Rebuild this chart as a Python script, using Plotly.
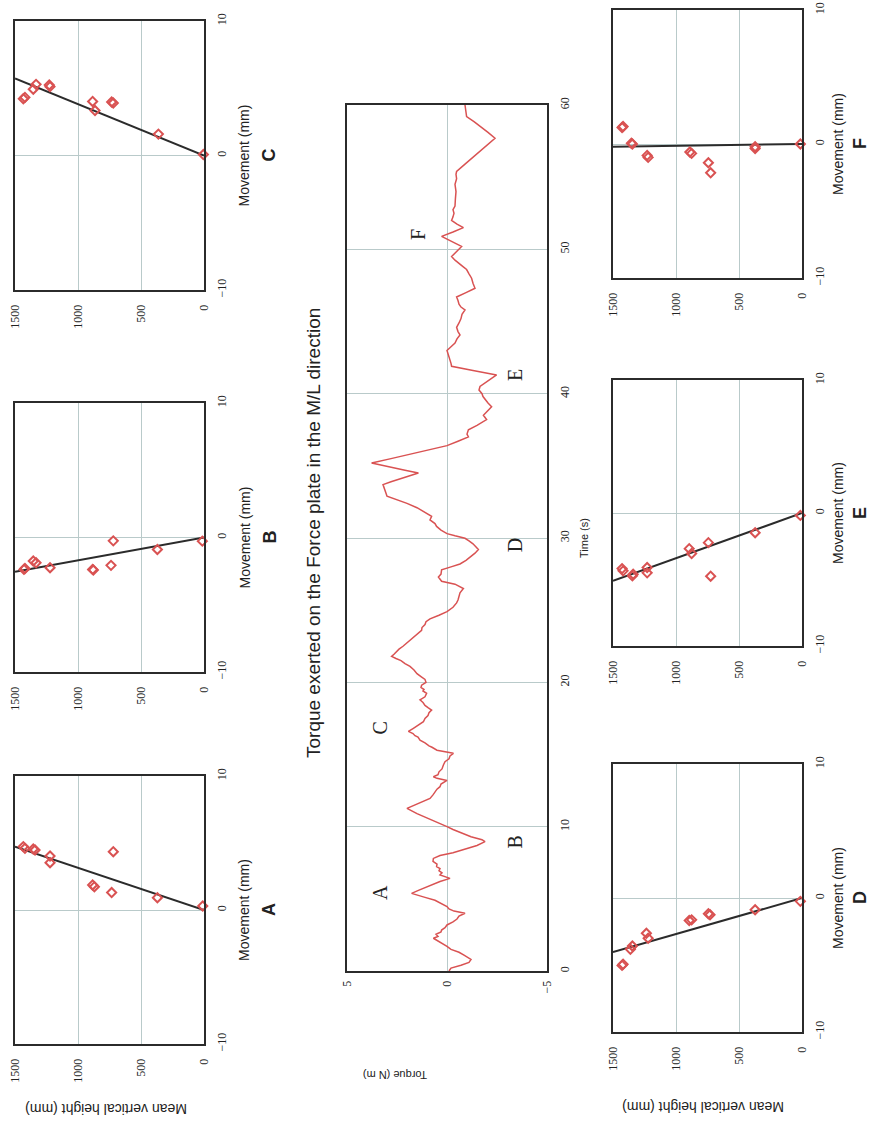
import plotly.graph_objects as go

# ---------------- data ----------------
time_s = [0.0, 0.2, 0.4, 0.6, 0.8, 1.0, 1.1, 1.3, 1.5, 1.7,
          1.9, 2.1, 2.27, 2.4, 2.55, 2.7, 2.84, 3.0, 3.19, 3.4,
          3.6, 3.8, 4.0, 4.15, 4.3, 4.46, 4.7, 4.9, 5.1, 5.38,
          5.6, 5.84, 6.0, 6.2, 6.42, 6.55, 6.65, 6.8, 6.95, 7.1,
          7.23, 7.4, 7.6, 7.8, 8.0, 8.2, 8.5, 8.7, 8.96, 9.1,
          9.3, 9.6, 9.8, 10.0, 10.3, 10.6, 10.9, 11.27, 11.45, 11.6,
          11.8, 11.96, 12.2, 12.4, 12.6, 12.77, 12.95, 13.2, 13.35, 13.46,
          13.6, 13.8, 14.0, 14.27, 14.5, 14.7, 14.9, 15.08, 15.2, 15.3,
          15.5, 15.6, 15.8, 16.0, 16.2, 16.3, 16.45, 16.6, 16.8, 17.0,
          17.15, 17.27, 17.5, 17.7, 17.9, 18.08, 18.25, 18.4, 18.6, 18.78,
          19.0, 19.24, 19.4, 19.5, 19.65, 19.8, 20.0, 20.2, 20.4, 20.6,
          20.85, 21.1, 21.3, 21.5, 21.65, 21.8, 21.95, 22.1, 22.3, 22.5,
          22.75, 23.0, 23.3, 23.5, 23.6, 23.8, 24.0, 24.2, 24.4, 24.65,
          24.9, 25.2, 25.5, 25.7, 26.0, 26.2, 26.5, 26.65, 26.8, 27.0,
          27.15, 27.3, 27.5, 27.8, 28.0, 28.2, 28.45, 28.7, 28.95, 29.2,
          29.4, 29.6, 29.8, 29.98, 30.15, 30.3, 30.55, 30.8, 31.0, 31.25,
          31.5, 31.7, 31.9, 32.1, 32.4, 32.65, 32.9, 33.1, 33.3, 33.5,
          33.7, 33.9, 34.1, 34.3, 34.5, 34.7, 34.9, 35.05, 35.2, 35.5,
          35.8, 36.1, 36.4, 36.7, 37.0, 37.2, 37.5, 37.8, 38.0, 38.2,
          38.5, 38.8, 39.1, 39.35, 39.6, 39.8, 40.0, 40.25, 40.5, 40.9,
          41.3, 41.6, 41.9, 42.1, 42.3, 42.65, 43.0, 43.25, 43.5, 43.8,
          44.07, 44.3, 44.6, 44.9, 45.2, 45.5, 45.8, 46.0, 46.2, 46.45,
          46.7, 47.0, 47.3, 47.65, 48.0, 48.3, 48.6, 48.8, 49.0, 49.25,
          49.5, 49.85, 50.2, 50.4, 50.6, 50.9, 51.2, 51.5, 51.75, 52.0,
          52.25, 52.5, 52.75, 53.0, 53.5, 54.0, 54.5, 54.9, 55.2, 55.4,
          55.9, 56.5, 57.1, 57.7, 58.1, 58.5, 58.85, 59.2, 59.6, 60.0]
torque_nm = [-0.1, -0.2, -0.7, -1.1, -1.2, -1.0, -0.85, -0.6, -0.2, 0.0,
             0.25, 0.5, 0.68, 0.45, 0.55, 0.3, 0.27, 0.1, 0.0, -0.3,
             -0.5, -0.6, -0.9, -0.35, -0.1, 0.0, 0.3, 0.6, 1.1, 1.77,
             1.4, 1.0, 0.7, 0.35, -0.15, 0.2, 0.35, 0.25, 0.4, 0.35,
             0.52, 0.5, 0.7, 0.68, 0.35, -0.3, -1.0, -1.5, -1.9, -1.75,
             -1.2, -0.6, -0.3, 0.0, 0.5, 1.0, 1.5, 2.0, 1.7, 1.4,
             1.1, 0.85, 0.7, 0.6, 0.5, 0.35, 0.3, 0.0, 0.5, 0.68,
             0.45, 0.4, 0.25, 0.18, 0.1, -0.1, -0.15, -0.32, 0.2, 0.5,
             0.75, 0.9, 1.1, 1.35, 1.45, 1.6, 1.7, 1.93, 1.7, 1.5,
             1.35, 1.18, 1.1, 0.95, 0.9, 0.77, 0.95, 1.1, 1.2, 1.35,
             1.1, 1.02, 1.2, 1.15, 1.3, 1.27, 1.05, 1.1, 1.3, 1.5,
             1.65, 1.85, 2.1, 2.3, 2.55, 2.77, 2.65, 2.55, 2.4, 2.2,
             2.0, 1.8, 1.55, 1.35, 1.27, 1.25, 1.1, 1.05, 0.85, 0.4,
             0.0, -0.3, -0.48, -0.55, -0.6, -0.65, -0.82, -0.6, -0.4, 0.27,
             0.35, 0.43, 0.3, 0.27, -0.2, -0.65, -0.95, -1.2, -1.4, -1.57,
             -1.45, -1.3, -1.1, -0.9, -0.4, 0.0, 0.3, 0.52, 0.6, 0.85,
             0.77, 1.0, 1.27, 1.5, 2.0, 2.5, 3.0, 3.05, 3.1, 3.15,
             3.2, 2.8, 2.3, 1.8, 1.43, 2.1, 2.8, 3.3, 3.77, 2.8,
             1.9, 0.9, 0.0, -0.55, -1.07, -1.0, -1.07, -1.5, -1.75, -1.98,
             -1.82, -2.05, -2.23, -2.05, -1.9, -1.8, -1.75, -1.6, -1.65, -2.05,
             -2.48, -1.3, -0.23, -0.2, -0.15, -0.1, 0.0, -0.2, -0.4, -0.5,
             -0.65, -0.55, -0.48, -0.6, -0.7, -0.75, -0.9, -0.7, -0.6, -0.55,
             -0.48, -0.95, -1.4, -1.3, -1.23, -1.1, -0.98, -0.8, -0.6, -0.4,
             -0.23, -0.5, -0.73, -0.45, -0.15, 0.27, -0.3, -0.82, -0.5, -0.23,
             -0.3, -0.35, -0.3, -0.4, -0.42, -0.45, -0.4, -0.48, -0.45, -0.48,
             -0.9, -1.4, -1.9, -2.4, -2.05, -1.7, -1.35, -0.98, -0.95, -0.9]

event_letters = ["A", "B", "C", "D", "E", "F"]
event_time = [5.4, 8.9, 16.8, 29.5, 41.3, 51.0]
event_torque = [3.35, -3.4, 3.35, -3.4, -3.4, 1.45]

heights_A = [10, 370, 733, 720, 870, 884, 1222, 1222, 1341, 1355, 1421, 1434]
move_A = [0.3, 0.92, 1.3, 4.35, 1.74, 1.87, 3.53, 4.03, 4.48, 4.55, 4.6, 4.73]
heights_B = [13, 370, 720, 738, 878, 884, 1222, 1333, 1355, 1421, 1429]
move_B = [-0.27, -0.89, -0.25, -2.07, -2.42, -2.37, -2.25, -1.88, -1.75, -2.3, -2.37]
heights_C = [5, 362, 865, 884, 720, 733, 1222, 1228, 1333, 1355, 1421, 1434]
move_C = [0.07, 1.59, 3.34, 4.02, 3.9, 3.98, 5.12, 5.24, 5.29, 4.93, 4.32, 4.22]
heights_D = [13, 372, 730, 743, 876, 895, 1235, 1221, 1346, 1362, 1420, 1428]
move_D = [-0.25, -0.88, -1.25, -1.18, -1.63, -1.68, -2.63, -3.0, -3.58, -3.83, -4.95, -5.03]
heights_E = [13, 372, 743, 725, 895, 876, 1229, 1229, 1346, 1340, 1428, 1420]
move_E = [-0.18, -1.48, -2.23, -4.75, -2.68, -3.05, -4.1, -4.5, -4.73, -4.6, -4.18, -4.35]
heights_F = [13, 372, 372, 743, 725, 876, 890, 1221, 1229, 1346, 1354, 1428, 1420]
move_F = [0.0, -0.33, -0.2, -1.4, -2.15, -0.7, -0.6, -1.0, -0.85, 0.0, 0.05, 1.23, 1.3]

fit_height = [0, 1500]
fit_end = {"A": 4.73, "B": -2.54, "C": 5.73, "D": -4.04, "E": -5.1, "F": -0.2}

height_ticks = [0, 500, 1000, 1500]
move_ticks = [-10, 0, 10]
move_ticktext = ["\u221210", "0", "10"]
torque_ticks = [-5, 0, 5]
torque_ticktext = ["\u22125", "0", "5"]
time_ticks = [0, 10, 20, 30, 40, 50, 60]

# ---------------- layout helpers ----------------
W, H = 872, 1130
def fx(p):
    return p / W
def fy(p):
    return 1 - p / H

RED = "#d95252"
GRID = "#b9caca"
BOX = "#2b2b2b"
SERIF = "Liberation Serif, Times New Roman, serif"
SANS = "Liberation Sans, Arial, sans-serif"

def note(text, px, py, angle, size, family=SANS):
    return dict(text=text, x=fx(px), y=fy(py), xref="paper", yref="paper",
                xanchor="center", yanchor="middle", textangle=angle, showarrow=False,
                font=dict(family=family, size=size, color="#222"))

fig = go.Figure()

# panel boxes in pixel coordinates: (x0, x1, y_top, y_bottom)
panels = [
    ("A", heights_A, move_A, (15, 204, 776, 1044)),
    ("B", heights_B, move_B, (15, 204, 403, 672)),
    ("C", heights_C, move_C, (15, 204, 21, 290)),
    ("D", heights_D, move_D, (613, 802, 764, 1032)),
    ("E", heights_E, move_E, (613, 802, 380, 646)),
    ("F", heights_F, move_F, (613, 802, 10, 278)),
]

annotations = []
layout_axes = {}
for i, (name, hts, mv, (x0, x1, yt, yb)) in enumerate(panels):
    n = i + 1
    xa = "x" if n == 1 else f"x{n}"
    ya = "y" if n == 1 else f"y{n}"
    xkey = "xaxis" if n == 1 else f"xaxis{n}"
    ykey = "yaxis" if n == 1 else f"yaxis{n}"
    fig.add_trace(go.Scatter(x=fit_height, y=[0, fit_end[name]], mode="lines",
                             line=dict(color=BOX, width=2), xaxis=xa, yaxis=ya,
                             showlegend=False, hoverinfo="skip"))
    fig.add_trace(go.Scatter(x=hts, y=mv, mode="markers",
                             marker=dict(symbol="diamond-open", size=7, color=RED,
                                         line=dict(width=2, color=RED)),
                             xaxis=xa, yaxis=ya, showlegend=False, cliponaxis=False))
    layout_axes[xkey] = dict(domain=[fx(x0), fx(x1)], range=[1500, 0], anchor=ya,
                             tickvals=height_ticks, tickangle=-90, showgrid=True,
                             gridcolor=GRID, gridwidth=1, zeroline=False, showline=True,
                             linecolor=BOX, linewidth=2, mirror=True, ticks="",
                             ticklabelstandoff=8, automargin=False,
                             tickfont=dict(family=SERIF, size=12, color="#222"))
    layout_axes[ykey] = dict(domain=[fy(yb), fy(yt)], range=[-10, 10], anchor=xa,
                             side="right", tickvals=move_ticks, ticktext=move_ticktext,
                             tickangle=-90, showgrid=True, gridcolor=GRID, gridwidth=1,
                             zeroline=False, showline=True, linecolor=BOX, linewidth=2,
                             mirror=True, ticks="", ticklabelstandoff=6, automargin=False,
                             tickfont=dict(family=SERIF, size=12, color="#222"))
    yc = (yt + yb) / 2
    tx = 244 if x0 < 300 else 838
    lx = 269 if x0 < 300 else 860
    annotations.append(note("Movement (mm)", tx, yc, -90, 14))
    annotations.append(note(f"<b>{name}</b>", lx, yc, -90, 18))

# torque time-series panel
fig.add_trace(go.Scatter(x=torque_nm, y=time_s, mode="lines", line=dict(color=RED, width=1.5),
                         xaxis="x7", yaxis="y7", showlegend=False))
layout_axes["xaxis7"] = dict(domain=[fx(347), fx(547)], range=[5, -5], anchor="y7",
                             tickvals=torque_ticks, ticktext=torque_ticktext, tickangle=-90,
                             showgrid=True, gridcolor=GRID, zeroline=False, showline=True,
                             linecolor=BOX, linewidth=2, mirror=True, ticks="",
                             ticklabelstandoff=3, automargin=False,
                             tickfont=dict(family=SERIF, size=12, color="#222"))
layout_axes["yaxis7"] = dict(domain=[fy(971), fy(105)], range=[0, 60], anchor="x7", side="right",
                             tickvals=time_ticks, tickangle=-90, showgrid=True, gridcolor=GRID,
                             zeroline=False, showline=True, linecolor=BOX, linewidth=2,
                             mirror=True, ticks="", ticklabelstandoff=6, automargin=False,
                             tickfont=dict(family=SERIF, size=12, color="#222"))
for letter, t, q in zip(event_letters, event_time, event_torque):
    annotations.append(dict(text=letter, x=q, y=t, xref="x7", yref="y7", textangle=-90,
                            xanchor="center", yanchor="middle", showarrow=False,
                            font=dict(family=SERIF, size=20, color="#222")))

annotations += [
    note("Torque exerted on the Force plate in the M/L direction", 313, 533, -90, 19),
    note("Time (s)", 584, 538, -90, 11),
    note("Torque (N m)", 395, 1075, 180, 11),
    note("Mean vertical height (mm)", 106, 1109, 180, 14),
    note("Mean vertical height (mm)", 703, 1107, 180, 14),
]

fig.update_layout(width=W, height=H,
                  margin=dict(l=0, r=0, t=0, b=0, pad=0, autoexpand=False),
                  paper_bgcolor="white", plot_bgcolor="white",
                  annotations=annotations, **layout_axes)

fig.write_html("out.html", config={"displayModeBar": False},
               post_script="document.body.style.margin='0';document.body.style.overflow='hidden';")
